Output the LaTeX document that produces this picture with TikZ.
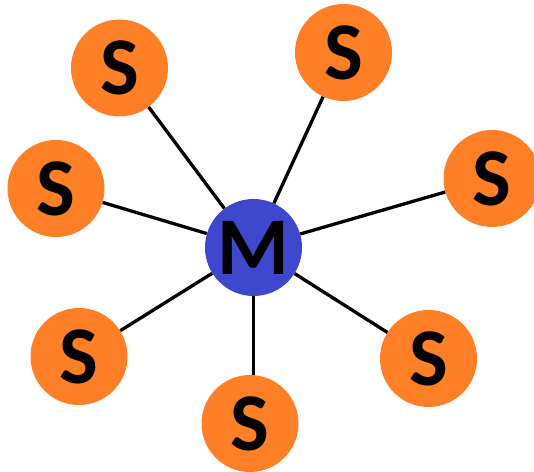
\documentclass[tikz,border=0pt]{standalone}
\usepackage{fontspec}
\setsansfont{Carlito}
\usepackage{tikz}
\definecolor{myorange}{RGB}{255,127,39}
\definecolor{myblue}{RGB}{63,72,204}
\newcommand{\sizenode}{97bp}
\newcommand{\sizeletter}{82bp}
\tikzset{
    common/.style={circle, inner sep=0pt, minimum size=\sizenode,
        font=\sffamily\bfseries\fontsize{\sizeletter}{\sizeletter}\selectfont},
    slave/.style={common, fill=myorange},
    master/.style={common, fill=myblue},
    link/.style={line width=3.3bp, black}
}
\begin{document}
\begin{tikzpicture}[x=1bp, y=-1bp]
        \useasboundingbox (0,0) rectangle (534,472);

        \node[master] (M) at (253.5,247.5) {M};

        \node[slave] (S-nw) at (119.5,68) {S};
        \node[slave] (S-ne) at (343.5,52.5) {S};
        \node[slave] (S-w) at (56,188.5) {S};
        \node[slave] (S-e) at (492,178.5) {S};
        \node[slave] (S-sw) at (79,356.5) {S};
        \node[slave] (S-s) at (250,423.5) {S};
        \node[slave] (S-se) at (428.5,358.5) {S};

        \draw[link] (M) -- (S-nw);
        \draw[link] (M) -- (S-ne);
        \draw[link] (M) -- (S-w);
        \draw[link] (M) -- (S-e);
        \draw[link] (M) -- (S-sw);
        \draw[link] (M.south) -- (M.south |- S-s.north);
        \draw[link] (M) -- (S-se);

    \end{tikzpicture}
\end{document}
